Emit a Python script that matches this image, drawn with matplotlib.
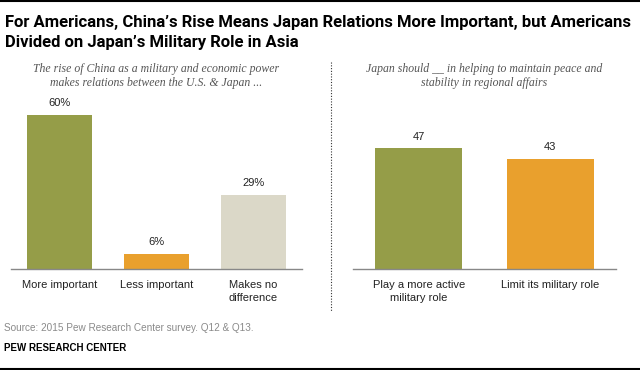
import matplotlib.pyplot as plt
from matplotlib.lines import Line2D

# data
left_labels = ['More important', 'Less important', 'Makes no\ndifference']
left_values = [60, 6, 29]
left_colors = ['#959D48', '#E9A02D', '#DBD8C8']

right_labels = ['Play a more active\nmilitary role', 'Limit its military role']
right_values = [47, 43]
right_colors = ['#959D48', '#E9A02D']

W, H = 640, 370
fig = plt.figure(figsize=(W / 100, H / 100), dpi=100)

def fx(px):
    return px / W

def fy(py):
    return 1 - py / H

title_font = ['Roboto', 'DejaVu Sans']
body_font = ['Liberation Sans', 'DejaVu Sans']
serif_font = ['Liberation Serif', 'DejaVu Serif']

# top and bottom rules
fig.add_artist(Line2D([0, 1], [fy(1), fy(1)], color='black', lw=1.5))
fig.add_artist(Line2D([0, 1], [fy(368.5), fy(368.5)], color='black', lw=1.5))

fig.text(fx(5), fy(22), 'For Americans, China\u2019s Rise Means Japan Relations More Important, but Americans',
         fontsize=12, fontweight='bold', family=title_font, va='center')
fig.text(fx(5), fy(42), 'Divided on Japan\u2019s Military Role in Asia',
         fontsize=12, fontweight='bold', family=title_font, va='center')

fig.text(fx(156), fy(76), 'The rise of China as a military and economic power\nmakes relations between the U.S. & Japan ...',
         fontsize=8.5, style='italic', family=serif_font, color='#555555',
         ha='center', va='center', linespacing=1.15)
fig.text(fx(484), fy(76), 'Japan should __ in helping to maintain peace and\nstability in regional affairs',
         fontsize=8.5, style='italic', family=serif_font, color='#555555',
         ha='center', va='center', linespacing=1.15)

# dotted separator
fig.add_artist(Line2D([fx(331), fx(331)], [fy(62), fy(311)], color='#333333',
                      lw=0.8, linestyle=(0, (1, 1.5))))

unit = 154 / 60  # px per percentage point


def panel(left_px, right_px, labels, values, colors, fmt):
    ax = fig.add_axes([fx(left_px), fy(269), fx(right_px - left_px), 60 * unit / H])
    x = list(range(len(values)))
    ax.bar(x, values, width=0.665, color=colors)
    ax.set_xlim(-0.5, len(values) - 0.5)
    ax.set_ylim(0, 60)
    for s in ['top', 'right', 'left']:
        ax.spines[s].set_visible(False)
    ax.spines['bottom'].set_color('#888888')
    ax.spines['bottom'].set_linewidth(1)
    ax.set_yticks([])
    ax.set_xticks(x)
    ax.set_xticklabels(labels, fontsize=8, color='#222222', linespacing=1.35,
                       family=body_font)
    ax.tick_params(axis='x', length=0, pad=8)
    for xi, v in zip(x, values):
        ax.text(xi, v + 2.6, fmt.format(v), ha='center', va='bottom',
                fontsize=8, color='#222222', family=body_font)
    ax.patch.set_alpha(0)
    return ax


panel(11, 302, left_labels, left_values, left_colors, '{}%')
panel(353, 616, right_labels, right_values, right_colors, '{}')

fig.text(fx(4), fy(328), 'Source: 2015 Pew Research Center survey. Q12 & Q13.',
         fontsize=7.2, color='#8a8a8a', va='center', family=body_font)
fig.text(fx(4), fy(348), 'PEW RESEARCH CENTER', fontsize=7, fontweight='bold',
         color='black', va='center', family=body_font)

fig.savefig('out.png', dpi=100)
